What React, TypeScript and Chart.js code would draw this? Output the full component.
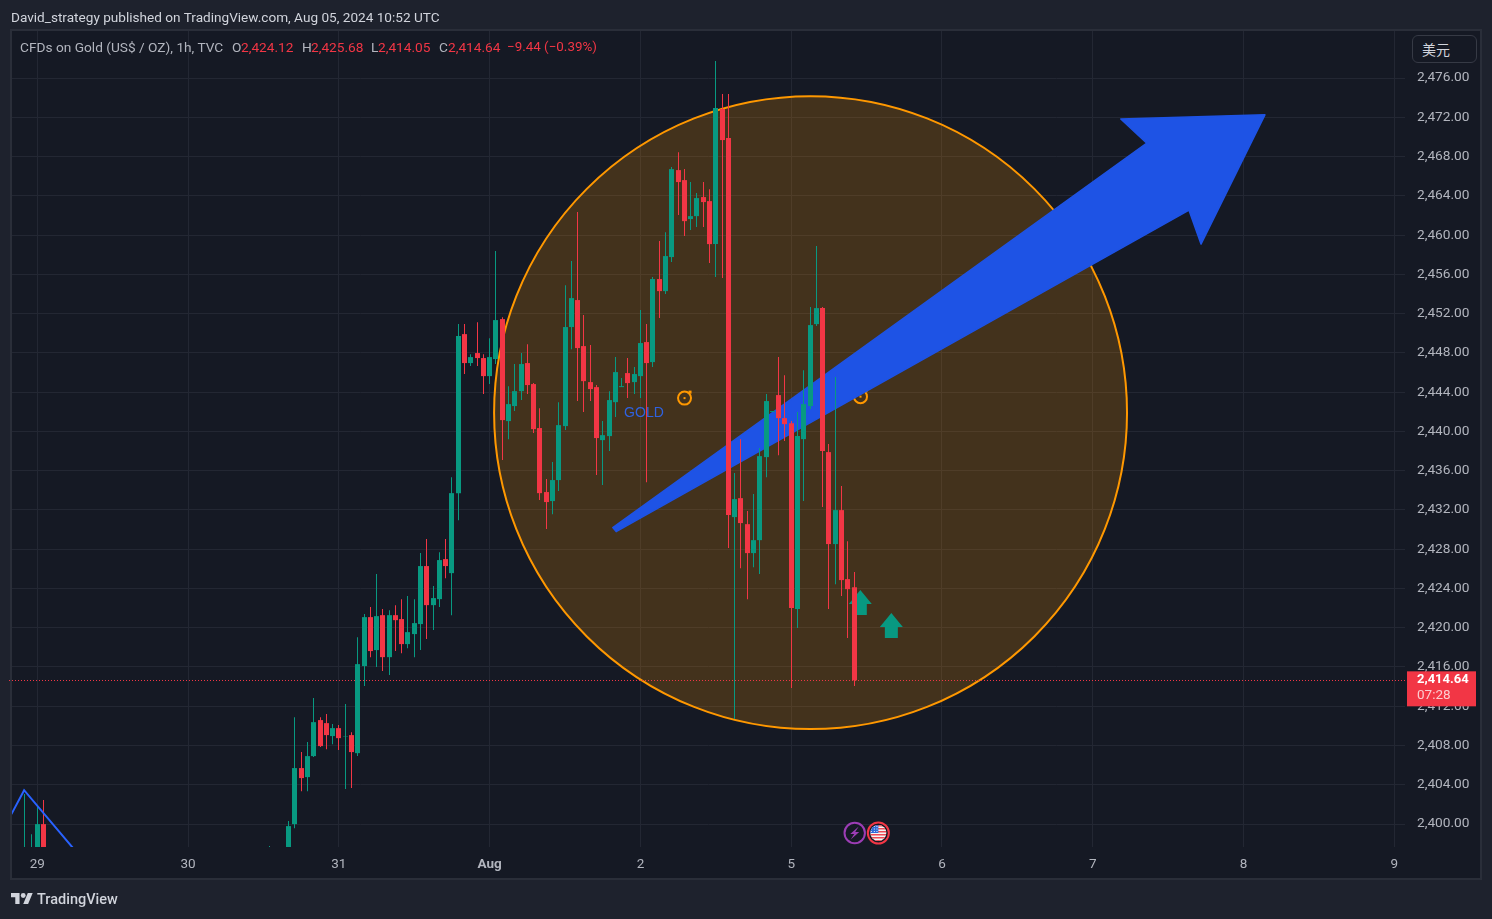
import React, { useEffect, useRef } from "react";
import { Chart, registerables } from "chart.js";

Chart.register(...registerables);

const barIndex = [-2,-1,0,1,37,40,41,42,43,44,45,46,47,48,49,50,51,52,53,54,55,56,57,58,59,60,61,62,63,64,65,66,67,68,69,70,71,72,73,74,75,76,77,78,79,80,81,82,83,84,85,86,87,88,89,90,91,92,93,94,95,96,97,98,99,100,101,102,103,104,105,106,107,108,109,110,111,112,113,114,115,116,117,118,119,120,121,122,123,124,125,126,127,128,129,130];
const opens = [2395.1,2394.2,2393.0,2399.99,2394,2396,2399.99,2405.70,2404.78,2406.92,2410.59,2410.28,2408.96,2409.77,2408.92,2409.06,2407.22,2416.09,2421.08,2417.72,2421.28,2417.00,2421.28,2420.88,2418.33,2419.35,2420.37,2426.28,2422.30,2422.91,2426.99,2425.56,2433.71,2449.91,2446.96,2447.98,2447.47,2445.63,2447.37,2451.44,2441.05,2442.58,2444.10,2446.96,2444.82,2440.34,2433.82,2432.90,2435.04,2440.54,2450.63,2453.38,2448.69,2445.02,2444.51,2439.11,2439.52,2442.98,2444.51,2445.94,2445.02,2445.63,2449.10,2447.06,2455.52,2454.29,2457.76,2466.62,2465.60,2461.63,2461.93,2463.87,2463.46,2459.08,2472.84,2469.88,2431.27,2433.20,2430.55,2427.60,2428.92,2437.38,2441.97,2443.70,2441.35,2440.84,2421.90,2439.21,2442.58,2450.93,2452.56,2437.89,2428.52,2431.98,2424.95,2424.12];
const highs = [2403.05,2398.97,2401.73,2402.44,2397.75,2400.30,2410.89,2407.33,2408.35,2412.83,2410.89,2411.20,2410.18,2410.08,2412.22,2409.36,2419.04,2421.39,2422.10,2425.46,2421.90,2421.79,2422.30,2422.91,2423.22,2422.91,2427.60,2429.03,2424.24,2427.70,2429.03,2435.34,2450.93,2450.93,2447.87,2451.13,2447.87,2449.50,2458.37,2451.64,2444.61,2446.86,2447.98,2448.89,2444.92,2442.37,2435.14,2436.87,2442.98,2454.90,2457.35,2462.34,2451.85,2448.79,2444.72,2441.05,2444.10,2447.57,2445.43,2447.47,2446.55,2452.36,2450.93,2455.72,2459.39,2460.30,2466.93,2468.45,2466.72,2465.40,2464.28,2465.40,2464.68,2477.73,2474.36,2474.36,2435.75,2439.21,2431.88,2433.61,2438.30,2443.80,2442.07,2447.57,2445.73,2441.05,2441.97,2446.24,2452.66,2458.88,2452.66,2438.71,2445.53,2434.43,2428.82,2425.68];
const lows = [2394.2,2393.5,2392.0,2391.0,2392,2394,2399.58,2403.35,2403.35,2406.82,2407.84,2407.63,2408.14,2407.53,2403.56,2403.66,2406.92,2414.05,2417.00,2415.99,2415.58,2415.17,2417.62,2417.41,2417.92,2417.00,2417.72,2418.84,2419.76,2422.10,2425.05,2421.28,2430.96,2445.84,2446.65,2446.65,2443.80,2444.82,2446.86,2437.08,2439.21,2442.07,2443.19,2443.80,2439.83,2433.00,2430.05,2431.57,2433.92,2440.13,2448.38,2443.09,2441.97,2443.09,2435.55,2434.53,2437.99,2441.46,2444.51,2443.39,2443.80,2443.39,2434.83,2446.55,2451.54,2453.99,2457.25,2462.04,2459.90,2460.51,2460.81,2460.81,2457.15,2455.72,2455.62,2428.11,2410.69,2426.07,2422.91,2426.17,2425.46,2435.34,2441.97,2437.58,2439.01,2413.85,2419.96,2432.90,2442.27,2450.73,2432.29,2421.90,2424.44,2423.22,2418.94,2414.05];
const closes = [2396.2,2396.1,2399.99,2392.5,2395,2399.79,2405.70,2404.68,2406.92,2410.38,2407.94,2409.06,2409.77,2408.75,2408.96,2407.33,2416.29,2421.08,2417.62,2421.18,2417.00,2421.28,2420.77,2418.33,2419.55,2420.47,2426.28,2422.30,2423.02,2426.89,2426.28,2433.71,2449.71,2446.96,2447.57,2447.47,2445.63,2447.57,2451.34,2441.15,2442.78,2444.10,2446.86,2444.72,2440.23,2433.71,2432.80,2435.04,2440.64,2450.63,2453.58,2448.49,2445.12,2444.31,2439.32,2439.62,2443.19,2446.04,2444.61,2444.92,2445.84,2449.00,2446.96,2455.52,2454.29,2457.86,2466.72,2465.40,2461.42,2461.93,2463.77,2463.36,2459.08,2472.94,2469.68,2431.47,2433.10,2430.66,2427.60,2428.92,2437.48,2443.09,2442.07,2441.35,2440.74,2422.00,2439.52,2442.78,2450.83,2452.56,2437.99,2428.52,2431.98,2424.85,2423.93,2414.64];

const priceTicks = [2400,2404,2408,2412,2416,2420,2424,2428,2432,2436,2440,2444,2448,2452,2456,2460,2464,2468,2472,2476];
const dayTicks = [0,24,48,72,96,120,144,168,192,216];
const dayLabels = ["29","30","31","Aug","2","5","6","7","8","9"];
const lastPrice = 2414.64;
const countdown = "07:28";

const drawnLineX = [-4.12,-2.10,5.65];
const drawnLineY = [2401.01,2403.45,2397.58];
const circleCenter = { x: 123.08, y: 2441.91, priceRadius: 32.24 };
const arrowX = [91.6,176.6,172.46,195.4,185.23,183.32,92.14];
const arrowY = [2430.2,2469.37,2471.82,2472.25,2459.08,2462.54,2429.79];
const ringX = [103.02,131.03];
const ringY = [2443.39,2443.54];
const upMarkX = [131.0,135.94];
const upMarkY = [2423.83,2421.49];
const noteLabel = { text: "GOLD", x: 93.4, y: 2441.81 };
const eventX = [130.11,133.87];

const UP = "#089981";
const DOWN = "#f23645";
const TEXT = "#b2b5be";
const UI_FONT = "Roboto, 'Liberation Sans', sans-serif";

const bodyColors = opens.map((o, i) => (closes[i] >= o ? UP : DOWN));

const overlayPlugin = {
  id: "overlay",
  beforeDraw(chart: any) {
    const { ctx, width, height } = chart;
    ctx.save();
    ctx.fillStyle = "#1e222d";
    ctx.fillRect(0, 0, width, height);
    ctx.fillStyle = "#2a2e39";
    ctx.fillRect(10, 29, 1472, 851);
    ctx.fillStyle = "#151924";
    ctx.fillRect(12, 31, 1468, 847);
    ctx.restore();
  },
  afterDatasetsUpdate(chart: any) {
    chart.data.datasets.forEach((d: any, i: number) => {
      if (d.type === "bar") {
        chart.getDatasetMeta(i).data.forEach((el: any) => {
          el.x = Math.floor(el.x) + 0.5;
        });
      }
      if (d.label === "last price") {
        chart.getDatasetMeta(i).data.forEach((el: any) => {
          el.x = Math.floor(el.x);
          el.y = Math.floor(el.y) + 0.5;
        });
      }
    });
  },
  beforeDatasetsDraw(chart: any) {
    const { ctx, chartArea, scales } = chart;
    const xs = scales.x;
    const ys = scales.y;
    ctx.save();
    ctx.beginPath();
    ctx.rect(chartArea.left, chartArea.top, chartArea.width, chartArea.height);
    ctx.clip();

    const cx = xs.getPixelForValue(circleCenter.x);
    const cy = ys.getPixelForValue(circleCenter.y);
    const r = ys.getPixelForValue(circleCenter.y - circleCenter.priceRadius) - cy;
    ctx.beginPath();
    ctx.arc(cx, cy, r, 0, Math.PI * 2);
    ctx.fillStyle = "rgba(255,152,0,0.2)";
    ctx.fill();
    ctx.lineWidth = 2;
    ctx.strokeStyle = "#ff9800";
    ctx.stroke();

    ringX.forEach((v, i) => {
      const x = xs.getPixelForValue(v);
      const y = ys.getPixelForValue(ringY[i]);
      ctx.beginPath();
      ctx.arc(x, y, 6.5, 0, Math.PI * 2);
      ctx.lineWidth = 2;
      ctx.strokeStyle = "#ff9800";
      ctx.stroke();
      ctx.fillStyle = "#ff9800";
      ctx.fillRect(x - 1, y - 1, 2, 2);
      ctx.fillRect(x + 4, y - 7.5, 3, 3);
    });

    ctx.fillStyle = "#2f62e0";
    ctx.font = "14px 'Liberation Sans', sans-serif";
    ctx.textAlign = "left";
    ctx.textBaseline = "middle";
    ctx.fillText(noteLabel.text, xs.getPixelForValue(noteLabel.x), ys.getPixelForValue(noteLabel.y));

    ctx.beginPath();
    arrowX.forEach((v, i) => {
      const x = xs.getPixelForValue(v);
      const y = ys.getPixelForValue(arrowY[i]);
      if (i === 0) ctx.moveTo(x, y);
      else ctx.lineTo(x, y);
    });
    ctx.closePath();
    ctx.fillStyle = "#1e53e5";
    ctx.fill();
    ctx.strokeStyle = "#1e53e5";
    ctx.lineWidth = 1.5;
    ctx.lineJoin = "round";
    ctx.stroke();

    upMarkX.forEach((v, i) => {
      const x = xs.getPixelForValue(v);
      const y = ys.getPixelForValue(upMarkY[i]);
      ctx.beginPath();
      ctx.moveTo(x, y);
      ctx.lineTo(x + 11.5, y + 14);
      ctx.lineTo(x + 6.5, y + 14);
      ctx.lineTo(x + 6.5, y + 25);
      ctx.lineTo(x - 6.5, y + 25);
      ctx.lineTo(x - 6.5, y + 14);
      ctx.lineTo(x - 11.5, y + 14);
      ctx.closePath();
      ctx.fillStyle = UP;
      ctx.fill();
    });
    ctx.restore();
  },
  afterDraw(chart: any) {
    const { ctx, chartArea, scales } = chart;
    const xs = scales.x;
    const ys = scales.y;
    const iconY = chartArea.bottom - 14;

    ctx.save();
    const ex = xs.getPixelForValue(eventX[0]);
    ctx.beginPath();
    ctx.arc(ex, iconY, 10.2, 0, Math.PI * 2);
    ctx.lineWidth = 2;
    ctx.strokeStyle = "#9c3db5";
    ctx.fillStyle = "#151924";
    ctx.fill();
    ctx.stroke();
    ctx.beginPath();
    ctx.moveTo(ex + 4, iconY - 6.5);
    ctx.lineTo(ex - 4.5, iconY + 1);
    ctx.lineTo(ex - 0.5, iconY + 1);
    ctx.lineTo(ex - 4, iconY + 6.5);
    ctx.lineTo(ex + 4.5, iconY - 1);
    ctx.lineTo(ex + 0.5, iconY - 1);
    ctx.closePath();
    ctx.fillStyle = "#9c3db5";
    ctx.fill();

    const fx = xs.getPixelForValue(eventX[1]);
    ctx.beginPath();
    ctx.arc(fx, iconY, 10.5, 0, Math.PI * 2);
    ctx.lineWidth = 2;
    ctx.strokeStyle = DOWN;
    ctx.fillStyle = "#151924";
    ctx.fill();
    ctx.stroke();
    ctx.save();
    ctx.beginPath();
    ctx.arc(fx, iconY, 8, 0, Math.PI * 2);
    ctx.clip();
    ctx.fillStyle = "#f5f5f5";
    ctx.fillRect(fx - 9, iconY - 9, 18, 18);
    ctx.fillStyle = "#ef4a55";
    [-8, -5, -2, 1, 4, 7].forEach((o) => ctx.fillRect(fx - 9, iconY + o, 18, 1.5));
    ctx.fillStyle = "#2f6bd8";
    ctx.fillRect(fx - 9, iconY - 9, 9, 9);
    ctx.fillStyle = "#e8eefc";
    [-6.5, -3.5, -0.9].forEach((dx) => [-6.5, -4, -1.5].forEach((dy) => ctx.fillRect(fx + dx - 1, iconY + dy - 0.5, 1, 1)));
    ctx.restore();

    const py = ys.getPixelForValue(lastPrice);
    ctx.fillStyle = DOWN;
    ctx.fillRect(1407, py - 9, 69, 35);
    ctx.textAlign = "left";
    ctx.textBaseline = "middle";
    ctx.fillStyle = "#ffffff";
    ctx.font = `bold 13px ${UI_FONT}`;
    ctx.fillText(lastPrice.toLocaleString("en-US", { minimumFractionDigits: 2 }), 1417, py - 1);
    ctx.fillStyle = "rgba(255,255,255,0.75)";
    ctx.font = `13.5px ${UI_FONT}`;
    ctx.fillText(countdown, 1417, py + 15);
    ctx.restore();
  },
};

const legendItems = [
  { t: "CFDs on Gold (US$ / OZ), 1h, TVC", x: 20, c: TEXT },
  { t: "O", x: 232, c: TEXT },
  { t: "2,424.12", x: 241, c: DOWN },
  { t: "H", x: 302, c: TEXT },
  { t: "2,425.68", x: 311, c: DOWN },
  { t: "L", x: 371, c: TEXT },
  { t: "2,414.05", x: 378, c: DOWN },
  { t: "C", x: 439, c: TEXT },
  { t: "2,414.64", x: 448, c: DOWN },
  { t: "−9.44 (−0.39%)", x: 507, c: DOWN, size: 13.4 },
];

export default function App() {
  const canvasRef = useRef<HTMLCanvasElement | null>(null);

  useEffect(() => {
    document.body.style.margin = "0";
    document.body.style.background = "#1e222d";
    const chart = new Chart(canvasRef.current as HTMLCanvasElement, {
      type: "bar",
      data: {
        datasets: [
          {
            type: "line",
            order: -1,
            data: drawnLineX.map((x, i) => ({ x, y: drawnLineY[i] })),
            borderColor: "#2962ff",
            borderWidth: 2,
            pointRadius: 0,
            tension: 0,
          },
          {
            type: "bar",
            data: barIndex.map((x, i) => ({ x, y: [opens[i], closes[i]] })),
            backgroundColor: bodyColors,
            barThickness: 5,
            grouped: false,
            borderWidth: 0,
            inflateAmount: 0,
          },
          {
            type: "bar",
            data: barIndex.map((x, i) => ({ x, y: [lows[i], highs[i]] })),
            backgroundColor: bodyColors,
            barThickness: 1,
            grouped: false,
            borderWidth: 0,
            inflateAmount: 0,
          },
          {
            type: "line",
            label: "last price",
            data: [
              { x: -4.5, y: lastPrice },
              { x: 218, y: lastPrice },
            ],
            borderColor: DOWN,
            borderWidth: 1,
            borderDash: [1, 2],
            pointRadius: 0,
            tension: 0,
            clip: false,
          },
        ] as any,
      },
      options: {
        responsive: false,
        animation: false,
        events: [],
        layout: { padding: { left: 12, top: 31, right: 0, bottom: 0 } },
        plugins: { legend: { display: false }, tooltip: { enabled: false } },
        scales: {
          x: {
            type: "linear",
            min: -4.03,
            max: 217.7,
            offset: false,
            afterFit(scale: any) {
              scale.height = 72;
            },
            afterBuildTicks(scale: any) {
              scale.ticks = dayTicks.map((value) => ({ value }));
            },
            grid: { color: "#232733", drawTicks: false, lineWidth: 1, offset: false },
            border: { display: false },
            ticks: {
              autoSkip: false,
              maxRotation: 0,
              padding: 10,
              color: TEXT,
              font: (c: any) => ({
                family: UI_FONT,
                size: 13.5,
                weight: c.tick && dayLabels[dayTicks.indexOf(c.tick.value)] === "Aug" ? "bold" : "normal",
              }),
              callback: (v: any) => dayLabels[dayTicks.indexOf(v)],
            },
          },
          y: {
            type: "linear",
            position: "right",
            min: 2397.66,
            max: 2480.79,
            afterFit(scale: any) {
              scale.width = 87;
            },
            afterBuildTicks(scale: any) {
              scale.ticks = priceTicks.map((value) => ({ value }));
            },
            grid: { color: "#232733", drawTicks: false, lineWidth: 1 },
            border: { display: false },
            ticks: {
              autoSkip: false,
              padding: 12,
              color: TEXT,
              font: { family: UI_FONT, size: 13.7 },
              callback: (v: any) => Number(v).toLocaleString("en-US", { minimumFractionDigits: 2 }),
            },
          },
        },
      } as any,
      plugins: [overlayPlugin as any],
    });
    return () => chart.destroy();
  }, []);

  return (
    <div style={{ position: "absolute", left: 0, top: 0, width: 1492, height: 919, overflow: "hidden", fontFamily: UI_FONT }}>
      <canvas ref={canvasRef} width={1492} height={919} style={{ position: "absolute", left: 0, top: 0, display: "block" }} />
      <div style={{ position: "absolute", left: 11, top: 9, fontSize: 13.6, lineHeight: "16px", color: "#d1d4dc", whiteSpace: "nowrap" }}>
        David_strategy published on TradingView.com, Aug 05, 2024 10:52 UTC
      </div>
      {legendItems.map((it) => (
        <div key={it.x} style={{ position: "absolute", left: it.x, top: 39, fontSize: it.size || 13.7, lineHeight: "16px", color: it.c, whiteSpace: "nowrap" }}>
          {it.t}
        </div>
      ))}
      <div style={{ position: "absolute", left: 1412, top: 35, width: 63, height: 26, boxSizing: "content-box", border: "1px solid #363a45", borderRadius: 6, background: "#151924" }}>
        <div style={{ position: "absolute", left: 9, top: 4, fontSize: 14, lineHeight: "18px", color: "#d1d4dc", fontFamily: "'Noto Sans CJK SC', sans-serif" }}>美元</div>
      </div>
      <svg width="22" height="11" viewBox="0 4 36 18" style={{ position: "absolute", left: 11, top: 893 }}>
        <path fill="#d1d4dc" d="M14 22H7V11H0V4h14v18zM28 22h-8l7.5-18h8L28 22z" />
        <circle fill="#d1d4dc" cx="20" cy="8" r="4" />
      </svg>
      <div style={{ position: "absolute", left: 37, top: 890, fontSize: 14.5, lineHeight: "20px", fontWeight: 500, color: "#d1d4dc", whiteSpace: "nowrap" }}>
        TradingView
      </div>
    </div>
  );
}
